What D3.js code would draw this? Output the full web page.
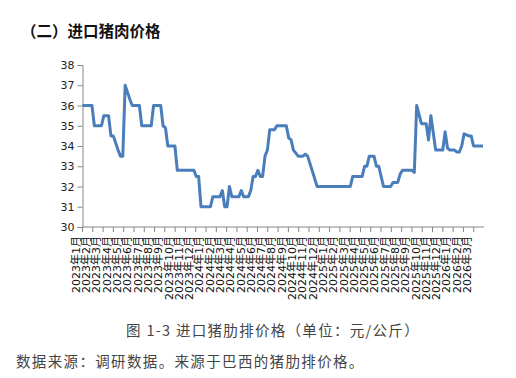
<!DOCTYPE html>
<html><head><meta charset="utf-8">
<script src="https://cdn.jsdelivr.net/npm/d3@7/dist/d3.min.js"></script>
<style>body{margin:0;background:#fff}svg{display:block}</style>
</head><body>
<svg id="c" width="516" height="378"></svg>
<script>
// ---- data ----
const monthLabels = [
 "2023年1月","2023年2月","2023年3月","2023年4月","2023年5月","2023年6月","2023年7月","2023年8月","2023年9月","2023年10月","2023年11月","2023年12月",
 "2024年1月","2024年2月","2024年3月","2024年4月","2024年5月","2024年6月","2024年7月","2024年8月","2024年9月","2024年10月","2024年11月","2024年12月",
 "2025年1月","2025年2月","2025年3月","2025年4月","2025年5月","2025年6月","2025年7月","2025年8月","2025年9月","2025年10月","2025年11月","2025年12月",
 "2026年1月","2026年2月","2026年3月"];
// week index since 2023-01-01 at each change point, and price (元/公斤)
const weeks  = [0,4,5,8,9,11,12,13,15,16,17,18,20,21,24,25,29,30,33,34,35,36,39,40,47,48,49,50,54,55,58,59,60,61,62,63,66,67,68,70,71,72,73,74,75,76,77,78,79,81,82,86,87,88,89,91,93,94,95,99,113,114,118,119,120,121,123,124,125,127,130,131,133,134,135,139,140,141,143,145,146,147,149,152,153,154,155,157,158,159,160,161,163,164,165,169];
const prices = [36.0,36.0,35.0,35.0,35.5,35.5,34.5,34.5,33.8,33.5,33.5,37.0,36.3,36.0,36.0,35.0,35.0,36.0,36.0,35.0,34.9,34.0,34.0,32.8,32.8,32.5,32.5,31.0,31.0,31.5,31.5,31.8,31.0,31.0,32.0,31.5,31.5,31.8,31.5,31.5,31.8,32.5,32.5,32.8,32.5,32.5,33.5,33.8,34.8,34.8,35.0,35.0,34.4,34.3,33.8,33.5,33.5,33.6,33.5,32.0,32.0,32.5,32.5,33.0,33.0,33.5,33.5,33.0,33.0,32.0,32.0,32.2,32.2,32.6,32.8,32.8,32.7,36.0,35.1,35.1,34.3,35.5,33.8,33.8,34.7,33.9,33.8,33.8,33.7,33.7,34.0,34.6,34.5,34.5,34.0,34.0];
const totalWeeks = 169.4;
const yTicks = [30,31,32,33,34,35,36,37,38];

const title = "（二）进口猪肉价格";
const caption = "图 1-3 进口猪肋排价格（单位：元/公斤）";
const source = "数据来源：调研数据。来源于巴西的猪肋排价格。";

// ---- drawing ----
const svg = d3.select("#c");
const L = 82.5, R = 484, T = 65, B = 227;
const xb = d3.scaleBand().domain(monthLabels).range([L, R]).padding(0);
const xw = d3.scaleLinear().domain([0, totalWeeks]).range([L, R]);
const y = d3.scaleLinear().domain([30, 38]).range([B, T]);
const axisColor = "#868686";
const font = "'DejaVu Sans','Noto Sans CJK SC',sans-serif";

svg.append("text").attr("x", 21).attr("y", 37).text(title)
  .attr("font-family", "'Noto Sans CJK SC',sans-serif").attr("font-weight", "bold")
  .attr("font-size", 15.5).attr("fill", "#111");

// y axis
const ya = svg.append("g").attr("transform", `translate(${L},0)`)
  .call(d3.axisLeft(y).tickValues(yTicks).tickSize(5).tickPadding(3).tickFormat(d3.format("d")));
ya.select(".domain").attr("stroke", axisColor);
ya.selectAll(".tick line").attr("stroke", axisColor);
ya.selectAll(".tick text").attr("font-family", font).attr("font-size", 11).attr("fill", "#222");

// x axis
const xg = svg.append("g");
xg.append("line").attr("x1", L).attr("x2", R).attr("y1", B).attr("y2", B).attr("stroke", axisColor);
xg.selectAll("line.tk").data(monthLabels).join("line").attr("class", "tk")
  .attr("x1", d => xb(d)).attr("x2", d => xb(d)).attr("y1", B).attr("y2", B + 5).attr("stroke", axisColor);
xg.selectAll("text").data(monthLabels).join("text")
  .attr("transform", d => `translate(${xb(d) - 6.5},${B + 9}) rotate(-90)`)
  .attr("text-anchor", "end").attr("dy", "0.35em")
  .attr("font-family", font).attr("font-size", 11).attr("fill", "#111")
  .text(d => d);

// line
const pts = weeks.map((w, i) => [w, prices[i]]);
svg.append("path").datum(pts)
  .attr("d", d3.line().x(d => xw(d[0])).y(d => y(d[1])))
  .attr("fill", "none").attr("stroke", "#4a7ebb").attr("stroke-width", 3)
  .attr("stroke-linejoin", "round");

svg.append("text").attr("x", 273).attr("y", 336).attr("text-anchor", "middle").text(caption)
  .attr("font-family", "'Noto Sans CJK SC',sans-serif").attr("font-size", 14.5).attr("fill", "#444")
  .attr("letter-spacing", 1.3);
svg.append("text").attr("x", 16).attr("y", 367).text(source)
  .attr("font-family", "'Noto Sans CJK SC',sans-serif").attr("font-size", 14.5).attr("fill", "#444")
  .attr("letter-spacing", 1.35);
</script>
</body></html>
